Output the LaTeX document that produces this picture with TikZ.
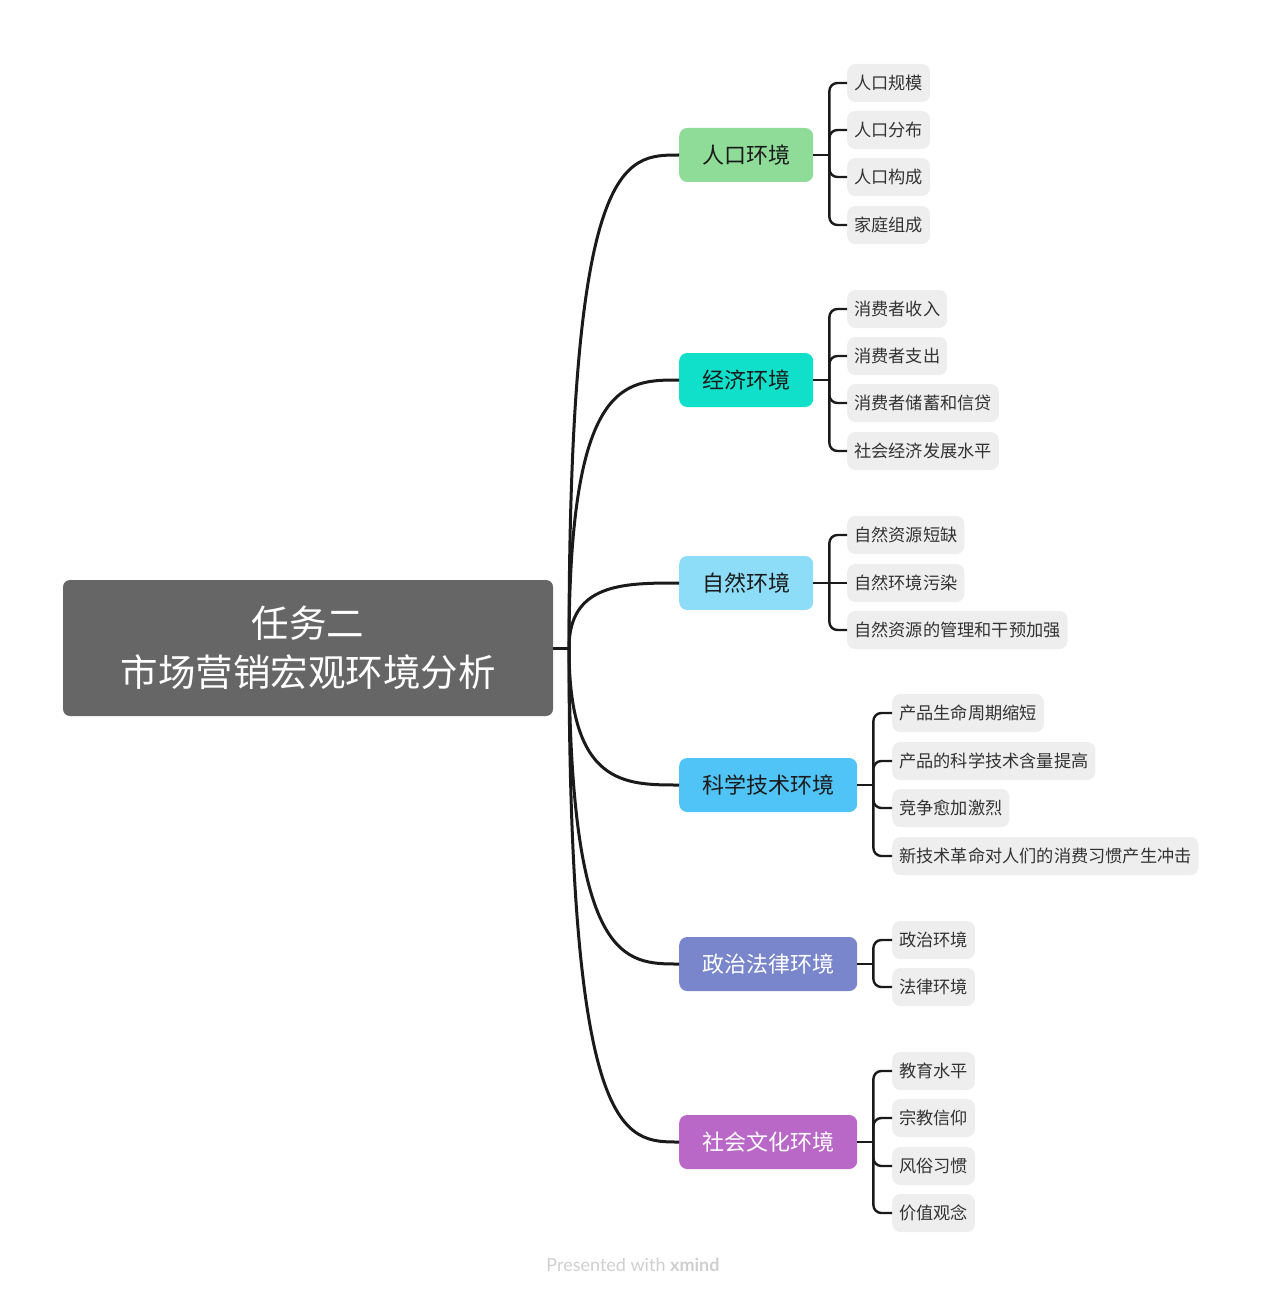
\documentclass[tikz,border=0pt]{standalone}
\usepackage{fontspec}
\setmainfont{Noto Sans CJK SC}
\newfontfamily\footfont{Lato}
\definecolor{rootgray}{HTML}{666666}
\definecolor{popgreen}{HTML}{8EDC98}
\definecolor{ecocyan}{HTML}{10E0CA}
\definecolor{natblue}{HTML}{8DDDF8}
\definecolor{sciblue}{HTML}{50C4F6}
\definecolor{polblue}{HTML}{7986CB}
\definecolor{socpurple}{HTML}{BA68C8}
\definecolor{leafgray}{HTML}{EEEEEE}
\definecolor{inkdark}{HTML}{1A1A1A}
\definecolor{leaftext}{HTML}{333333}
\definecolor{footgray}{HTML}{CFCFCF}

\begin{document}
\begin{tikzpicture}[x=1pt,y=-1pt]
		\tikzset{root/.style = {draw=none, fill=rootgray, rounded corners=7pt, minimum width=490pt, minimum height=136pt, text=white, align=center, font=\fontsize{37.5}{49}\selectfont}}
		\tikzset{topic/.style = {draw=none, rounded corners=8pt, anchor=west, inner xsep=23pt, inner ysep=0pt, minimum height=54pt, text=inkdark, font=\fontsize{22}{26}\selectfont}}
		\tikzset{leaf/.style = {draw=none, fill=leafgray, rounded corners=8pt, anchor=west, inner xsep=7pt, inner ysep=0pt, minimum height=38pt, text=leaftext, font=\fontsize{17.2}{20}\selectfont}}
		\tikzset{main/.style = {draw=inkdark, line width=3pt}}
		\tikzset{sub/.style = {draw=inkdark, line width=2.4pt, rounded corners=8pt}}

		\useasboundingbox (0,0) rectangle (1267,1297);

		\node[root] (R) at (308,648) {任务二\\市场营销宏观环境分析};
		\coordinate (H) at (569,648);

		\node[topic, fill=popgreen] (B_1) at (679,155) {人口环境};
		\node[topic, fill=ecocyan] (B_2) at (679,380) {经济环境};
		\node[topic, fill=natblue] (B_3) at (679,583) {自然环境};
		\node[topic, fill=sciblue] (B_4) at (679,785) {科学技术环境};
		\node[topic, fill=polblue, text=white] (B_5) at (679,964) {政治法律环境};
		\node[topic, fill=socpurple, text=white] (B_6) at (679,1142) {社会文化环境};

		\node[leaf] (L_1_1) at (847,83) {人口规模};
		\node[leaf] (L_1_2) at (847,130) {人口分布};
		\node[leaf] (L_1_3) at (847,177) {人口构成};
		\node[leaf] (L_1_4) at (847,225) {家庭组成};

		\node[leaf] (L_2_1) at (847,309) {消费者收入};
		\node[leaf] (L_2_2) at (847,356) {消费者支出};
		\node[leaf] (L_2_3) at (847,403) {消费者储蓄和信贷};
		\node[leaf] (L_2_4) at (847,451) {社会经济发展水平};

		\node[leaf] (L_3_1) at (847,535) {自然资源短缺};
		\node[leaf] (L_3_2) at (847,583) {自然环境污染};
		\node[leaf] (L_3_3) at (847,630) {自然资源的管理和干预加强};

		\node[leaf] (L_4_1) at (892,713) {产品生命周期缩短};
		\node[leaf] (L_4_2) at (892,761) {产品的科学技术含量提高};
		\node[leaf] (L_4_3) at (892,808) {竞争愈加激烈};
		\node[leaf] (L_4_4) at (892,856) {新技术革命对人们的消费习惯产生冲击};

		\node[leaf] (L_5_1) at (892,940) {政治环境};
		\node[leaf] (L_5_2) at (892,987) {法律环境};

		\node[leaf] (L_6_1) at (892,1071) {教育水平};
		\node[leaf] (L_6_2) at (892,1118) {宗教信仰};
		\node[leaf] (L_6_3) at (892,1166) {风俗习惯};
		\node[leaf] (L_6_4) at (892,1213) {价值观念};

		\coordinate (H_1) at ([xshift=16pt]B_1.east);
		\coordinate (H_2) at ([xshift=16pt]B_2.east);
		\coordinate (H_3) at ([xshift=16pt]B_3.east);
		\coordinate (H_4) at ([xshift=16pt]B_4.east);
		\coordinate (H_5) at ([xshift=16pt]B_5.east);
		\coordinate (H_6) at ([xshift=16pt]B_6.east);

		\node[font=\footfont\fontsize{18}{21}\selectfont, text=footgray] (F) at (633,1265) {Presented with \textbf{xmind}};

		\draw[main] (R.east)--(H);
		\draw[main] (H) .. controls (H |- B_1.west) and +(-55,0) .. (B_1.west);
		\draw[main] (H) .. controls (H |- B_2.west) and +(-55,0) .. (B_2.west);
		\draw[main] (H) .. controls (H |- B_3.west) and +(-55,0) .. (B_3.west);
		\draw[main] (H) .. controls (H |- B_4.west) and +(-55,0) .. (B_4.west);
		\draw[main] (H) .. controls (H |- B_5.west) and +(-55,0) .. (B_5.west);
		\draw[main] (H) .. controls (H |- B_6.west) and +(-55,0) .. (B_6.west);

		\draw[sub] (B_1.east)--(H_1);
		\draw[sub] (H_1) |- (L_1_1.west);
		\draw[sub] (H_1) |- (L_1_2.west);
		\draw[sub] (H_1) |- (L_1_3.west);
		\draw[sub] (H_1) |- (L_1_4.west);

		\draw[sub] (B_2.east)--(H_2);
		\draw[sub] (H_2) |- (L_2_1.west);
		\draw[sub] (H_2) |- (L_2_2.west);
		\draw[sub] (H_2) |- (L_2_3.west);
		\draw[sub] (H_2) |- (L_2_4.west);

		\draw[sub] (B_3.east)--(H_3);
		\draw[sub] (H_3) |- (L_3_1.west);
		\draw[sub] (H_3)--(L_3_2.west);
		\draw[sub] (H_3) |- (L_3_3.west);

		\draw[sub] (B_4.east)--(H_4);
		\draw[sub] (H_4) |- (L_4_1.west);
		\draw[sub] (H_4) |- (L_4_2.west);
		\draw[sub] (H_4) |- (L_4_3.west);
		\draw[sub] (H_4) |- (L_4_4.west);

		\draw[sub] (B_5.east)--(H_5);
		\draw[sub] (H_5) |- (L_5_1.west);
		\draw[sub] (H_5) |- (L_5_2.west);

		\draw[sub] (B_6.east)--(H_6);
		\draw[sub] (H_6) |- (L_6_1.west);
		\draw[sub] (H_6) |- (L_6_2.west);
		\draw[sub] (H_6) |- (L_6_3.west);
		\draw[sub] (H_6) |- (L_6_4.west);

	\end{tikzpicture}
\end{document}
